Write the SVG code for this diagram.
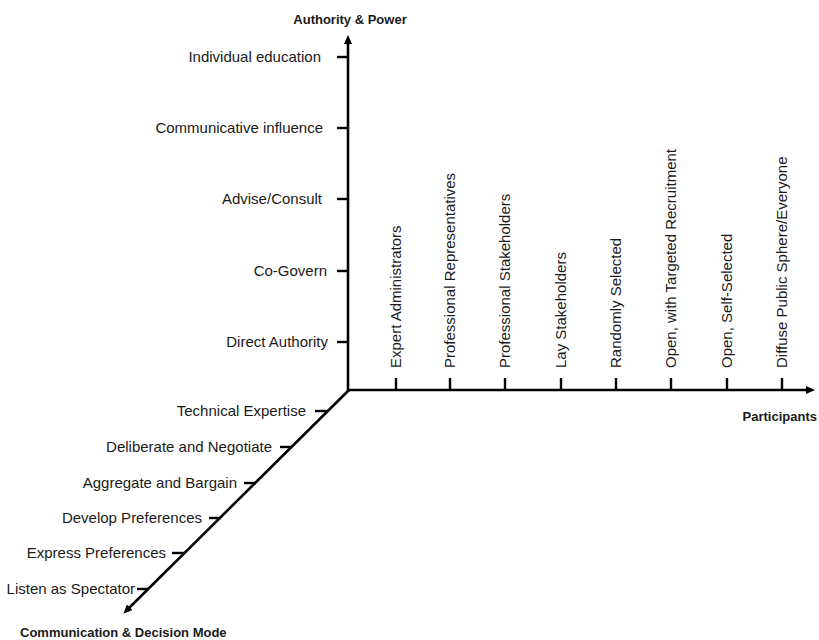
<svg xmlns="http://www.w3.org/2000/svg" width="819" height="640" viewBox="0 0 819 640">
<style>
  .axis { stroke: #000; stroke-width: 2.6; fill: none; }
  .tick { stroke: #000; stroke-width: 2.4; fill: none; }
  .lbl { font-family: "Liberation Sans", Arial, sans-serif; font-size: 15px; fill: #1a1a1a; }
  .end { text-anchor: end; }
  .title { font-family: "Liberation Sans", Arial, sans-serif; font-size: 13px; font-weight: bold; fill: #1a1a1a; }
</style>
<defs>
  <marker id="arrow" markerUnits="userSpaceOnUse" markerWidth="10" markerHeight="8" refX="1" refY="4" orient="auto">
    <path d="M0,0 L9,4 L0,8 z" fill="#000"/>
  </marker>
</defs>
<rect width="819" height="640" fill="#fff"/>

<g id="connectors">
  <line class="axis" x1="348" y1="392" x2="348" y2="43" marker-end="url(#arrow)"/>
  <line class="axis" x1="347" y1="390" x2="807" y2="390" marker-end="url(#arrow)"/>
  <line class="axis" x1="349" y1="390" x2="129" y2="608" marker-end="url(#arrow)"/>
</g>

<g id="axis-authority">
  <text class="title" x="350" y="24" text-anchor="middle">Authority &amp; Power</text>
  <g id="a-individual"><line class="tick" x1="337" y1="57" x2="348" y2="57"/><text class="lbl end" x="321" y="62">Individual education</text></g>
  <g id="a-communicative"><line class="tick" x1="337" y1="128" x2="348" y2="128"/><text class="lbl end" x="323" y="133">Communicative influence</text></g>
  <g id="a-advise"><line class="tick" x1="337" y1="199" x2="348" y2="199"/><text class="lbl end" x="322" y="204">Advise/Consult</text></g>
  <g id="a-cogovern"><line class="tick" x1="337" y1="271" x2="348" y2="271"/><text class="lbl end" x="327" y="276">Co-Govern</text></g>
  <g id="a-direct"><line class="tick" x1="337" y1="342" x2="348" y2="342"/><text class="lbl end" x="328" y="347">Direct Authority</text></g>
</g>

<g id="axis-participants">
  <text class="title" x="817" y="421" text-anchor="end">Participants</text>
  <g id="p-expert"><line class="tick" x1="396" y1="378" x2="396" y2="390"/><text class="lbl" transform="translate(401,368) rotate(-90)">Expert Administrators</text></g>
  <g id="p-profrep"><line class="tick" x1="450" y1="378" x2="450" y2="390"/><text class="lbl" transform="translate(455,368) rotate(-90)">Professional Representatives</text></g>
  <g id="p-profstake"><line class="tick" x1="505" y1="378" x2="505" y2="390"/><text class="lbl" transform="translate(510,368) rotate(-90)">Professional Stakeholders</text></g>
  <g id="p-lay"><line class="tick" x1="561" y1="378" x2="561" y2="390"/><text class="lbl" transform="translate(566,368) rotate(-90)">Lay Stakeholders</text></g>
  <g id="p-random"><line class="tick" x1="616" y1="378" x2="616" y2="390"/><text class="lbl" transform="translate(621,368) rotate(-90)">Randomly Selected</text></g>
  <g id="p-opentarget"><line class="tick" x1="671" y1="378" x2="671" y2="390"/><text class="lbl" transform="translate(676,368) rotate(-90)">Open, with Targeted Recruitment</text></g>
  <g id="p-openself"><line class="tick" x1="727" y1="378" x2="727" y2="390"/><text class="lbl" transform="translate(732,368) rotate(-90)">Open, Self-Selected</text></g>
  <g id="p-diffuse"><line class="tick" x1="782" y1="378" x2="782" y2="390"/><text class="lbl" transform="translate(787,368) rotate(-90)">Diffuse Public Sphere/Everyone</text></g>
</g>

<g id="axis-communication">
  <text class="title" x="20" y="637">Communication &amp; Decision Mode</text>
  <g id="c-technical"><line class="tick" x1="315" y1="411" x2="328" y2="411"/><text class="lbl end" x="306" y="416">Technical Expertise</text></g>
  <g id="c-deliberate"><line class="tick" x1="280" y1="447" x2="292" y2="447"/><text class="lbl end" x="272" y="452">Deliberate and Negotiate</text></g>
  <g id="c-aggregate"><line class="tick" x1="244" y1="483" x2="256" y2="483"/><text class="lbl end" x="237" y="488">Aggregate and Bargain</text></g>
  <g id="c-develop"><line class="tick" x1="209" y1="518" x2="221" y2="518"/><text class="lbl end" x="202" y="523">Develop Preferences</text></g>
  <g id="c-express"><line class="tick" x1="172" y1="553" x2="185" y2="553"/><text class="lbl end" x="166" y="558">Express Preferences</text></g>
  <g id="c-listen"><line class="tick" x1="137" y1="589" x2="149" y2="589"/><text class="lbl end" x="135" y="594">Listen as Spectator</text></g>
</g>
</svg>
